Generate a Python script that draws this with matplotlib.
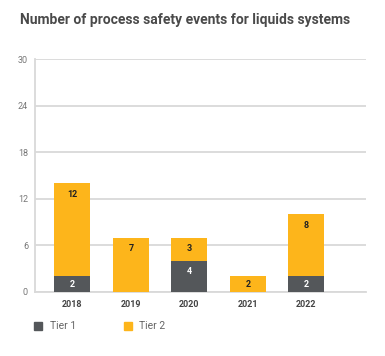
import matplotlib
matplotlib.use("Agg")
import matplotlib.pyplot as plt
from matplotlib.patches import Rectangle

years = ["2018", "2019", "2020", "2021", "2022"]
tier1 = [2, 0, 4, 0, 2]
tier2 = [12, 7, 3, 2, 8]
yticks = [0, 6, 12, 18, 24, 30]

c1 = "#54575a"
c2 = "#fdb51b"
grid_c = "#d9d9d9"

plt.rcParams['font.family'] = ['Roboto', 'DejaVu Sans']

fig = plt.figure(figsize=(3.85, 3.56), dpi=100)
ax = fig.add_axes([0.091, 0.180, 0.860, 0.654])

x = list(range(len(years)))
w = 0.615
ax.bar(x, tier1, width=w, color=c1, zorder=3)
ax.bar(x, tier2, width=w, bottom=tier1, color=c2, zorder=3)

def label_y(bottom, h):
    top = bottom + h
    return top - min(1.4, h / 2)

for i in x:
    if tier1[i] > 0:
        ax.text(i, label_y(0, tier1[i]), str(tier1[i]), ha="center", va="center",
                color="white", fontsize=6.5, fontweight="bold", zorder=4)
    if tier2[i] > 0:
        ax.text(i, label_y(tier1[i], tier2[i]), str(tier2[i]), ha="center", va="center",
                color="#222222", fontsize=6.5, fontweight="bold", zorder=4)

ax.set_ylim(0, 30)
ax.set_xlim(-0.64, 5.02)
ax.set_yticks(yticks)
ax.set_yticklabels([str(t) for t in yticks])
ax.set_xticks(x)
ax.set_xticklabels(years, fontweight="bold")
ax.tick_params(axis="y", length=0, pad=5, labelsize=6.5, labelcolor="#777777")
ax.tick_params(axis="x", length=0, pad=6, labelsize=6.5, labelcolor="#444444")
ax.grid(axis="y", color=grid_c, linewidth=1.3, zorder=0)
for s in ["top", "right"]:
    ax.spines[s].set_visible(False)
ax.spines["left"].set_color(grid_c)
ax.spines["left"].set_linewidth(1.3)
ax.spines["bottom"].set_color(grid_c)
ax.spines["bottom"].set_linewidth(1.3)

fig.text(20 / 385, 1 - 20 / 356, "Number of process safety events for liquids systems",
         fontsize=10, fontweight="bold", color="#4a4a4a", ha="left", va="center")

# legend
fig.patches.append(Rectangle((34 / 385, 1 - 330 / 356), 8 / 385, 8 / 356,
                             transform=fig.transFigure, color=c1))
fig.text(50 / 385, 1 - 326 / 356, "Tier 1", fontsize=7.5, color="#666666", va="center")
fig.patches.append(Rectangle((124 / 385, 1 - 330 / 356), 8 / 385, 8 / 356,
                             transform=fig.transFigure, color=c2))
fig.text(139 / 385, 1 - 326 / 356, "Tier 2", fontsize=7.5, color="#666666", va="center")

fig.savefig("out.png", dpi=100)
